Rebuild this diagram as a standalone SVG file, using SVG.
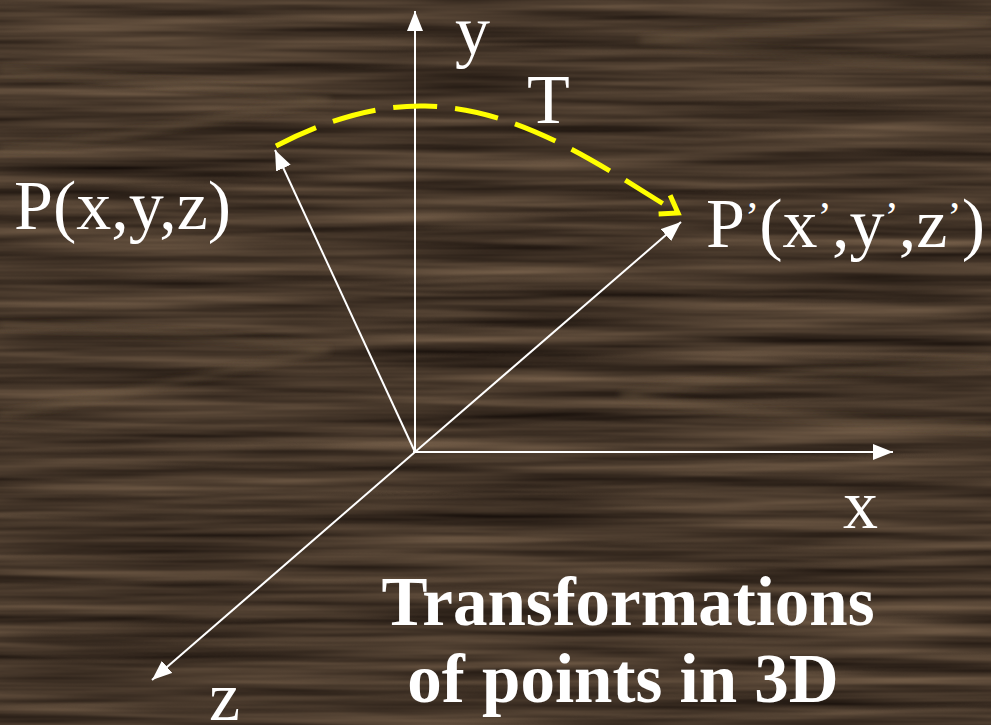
<svg xmlns="http://www.w3.org/2000/svg" width="991" height="725" viewBox="0 0 991 725">
<defs>
<style>
.lbl{font-family:"Liberation Serif","Times New Roman",serif;font-size:70px;fill:#ffffff}
.ttl{font-family:"Liberation Serif","Times New Roman",serif;font-size:69px;font-weight:bold;fill:#ffffff}
.ax{stroke:#ffffff;stroke-width:2;fill:none}
.grain{fill:none;stroke:#6e5a44;stroke-opacity:0.5;stroke-width:5;filter:url(#soft)}
</style>
<filter id="wood" x="0" y="0" width="991" height="725" filterUnits="userSpaceOnUse" color-interpolation-filters="sRGB">
<feTurbulence type="fractalNoise" baseFrequency="0.003 0.08" numOctaves="3" seed="7" result="n"/>
<feColorMatrix in="n" type="matrix" values="0.45 0 0 0 0.05  0.38 0 0 0 0.026  0.3 0 0 0 0.015  0 0 0 0 1"/>
</filter>
<filter id="soft" x="-10%" y="-50%" width="120%" height="200%"><feGaussianBlur stdDeviation="3"/></filter>
<marker id="wa" markerUnits="userSpaceOnUse" markerWidth="22" markerHeight="16" refX="20" refY="8" orient="auto">
<path d="M0,0 L20,8 L0,16 Z" fill="#ffffff"/>
</marker>
<marker id="ya" markerUnits="userSpaceOnUse" markerWidth="30" markerHeight="30" refX="22" refY="15" orient="auto">
<path d="M6,4 L22,15 L6,26" fill="none" stroke="#ffff00" stroke-width="5"/>
</marker>
</defs>
<rect width="991" height="725" fill="#45362a"/>
<rect width="991" height="725" filter="url(#wood)"/>
<g id="grain">
<path class="grain" d="M0,150 C120,140 250,110 330,100 C260,92 150,80 0,70"/>
<path class="grain" d="M0,415 C100,400 250,365 330,350 C260,340 150,330 0,325"/>
<path class="grain" d="M991,430 C850,420 700,410 620,395 C700,380 850,370 991,360"/>
<path class="grain" d="M991,70 C850,60 700,45 640,40 C720,30 850,25 991,20"/>
</g>
<g id="connectors">
<line id="axis-y" class="ax" x1="415" y1="452" x2="415" y2="11" marker-end="url(#wa)"/>
<line id="axis-x" class="ax" x1="413" y1="452" x2="893" y2="452" marker-end="url(#wa)"/>
<line id="axis-z" class="ax" x1="415" y1="452" x2="152" y2="680" marker-end="url(#wa)"/>
<line id="vec-p" class="ax" x1="415" y1="452" x2="275" y2="150" marker-end="url(#wa)"/>
<line id="vec-p2" class="ax" x1="415" y1="452" x2="681" y2="222" marker-end="url(#wa)"/>
<path id="transform-T" d="M276,146 C330,118 380,105 425,106 C520,108 600,165 678,213" fill="none" stroke="#ffff00" stroke-width="5" stroke-dasharray="44 18" marker-end="url(#ya)"/>
</g>
<g id="label-y"><text class="lbl" x="455" y="54">y</text></g>
<g id="label-x"><text class="lbl" x="843" y="528">x</text></g>
<g id="label-z"><text class="lbl" x="209" y="720">z</text></g>
<g id="label-T"><text class="lbl" x="527" y="123">T</text></g>
<g id="node-P"><text class="lbl" x="14" y="229">P(x,y,z)</text></g>
<g id="node-P2"><text class="lbl" x="706" y="247">P<tspan font-size="43" dy="-16">’</tspan><tspan dy="16">(x</tspan><tspan font-size="43" dy="-16">’</tspan><tspan dy="16">,y</tspan><tspan font-size="43" dy="-16">’</tspan><tspan dy="16">,z</tspan><tspan font-size="43" dy="-16">’</tspan><tspan dy="16">)</tspan></text></g>
<g id="title">
<text class="ttl" x="628" y="625" text-anchor="middle">Transformations</text>
<text class="ttl" x="623" y="702" text-anchor="middle">of points in 3D</text>
</g>
</svg>
